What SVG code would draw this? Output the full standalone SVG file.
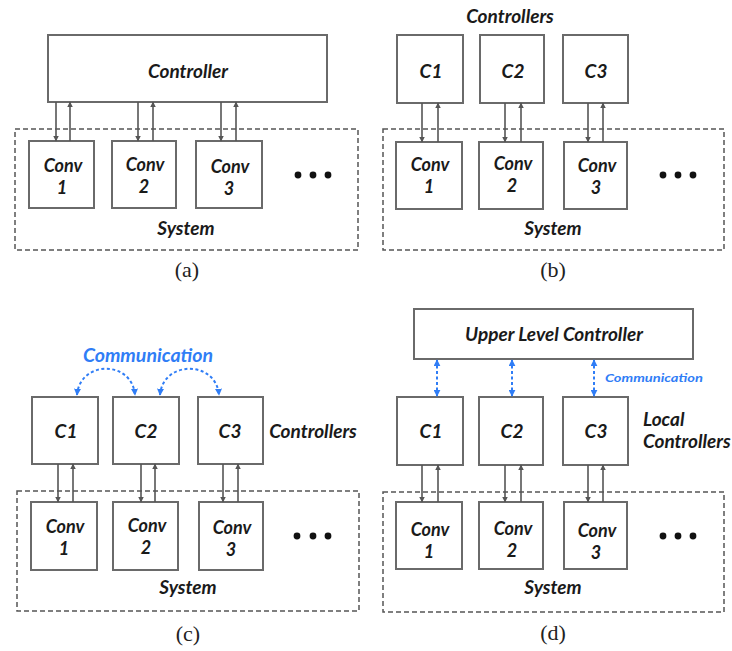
<svg xmlns="http://www.w3.org/2000/svg" width="732" height="651" viewBox="0 0 732 651">
  <style>
    .box { fill: #ffffff; stroke: #6a6a6a; stroke-width: 2; }
    .sys { fill: none; stroke: #555555; stroke-width: 1.5; stroke-dasharray: 5 3; }
    .lbl { font-family: Lato, "Open Sans", "Liberation Sans", sans-serif; font-weight: bold; font-style: italic; fill: #1a1a1a; text-anchor: middle; }
    .left { text-anchor: start; }
    .conv { font-size: 18px; }
    .big { font-size: 19px; }
    .cap { font-family: "Liberation Serif", serif; font-size: 22px; fill: #222222; text-anchor: middle; }
    .comm { font-family: Lato, "Open Sans", "Liberation Sans", sans-serif; font-weight: bold; font-style: italic; fill: #2f7df6; }
    .wire { stroke: #555555; stroke-width: 1.6; fill: none; marker-end: url(#ah); }
    .blue { stroke: #2f7df6; stroke-width: 2; stroke-dasharray: 3 2.5; fill: none; }
    .dot { fill: #111111; }
  </style>
  <defs>
    <marker id="ah" viewBox="0 0 10 10" refX="9" refY="5" markerWidth="5.5" markerHeight="5.5" orient="auto-start-reverse" markerUnits="userSpaceOnUse">
      <path d="M0,0 L10,5 L0,10 z" fill="#555555"/>
    </marker>
    <marker id="bh" viewBox="0 0 10 10" refX="9" refY="5" markerWidth="7" markerHeight="7" orient="auto-start-reverse" markerUnits="userSpaceOnUse">
      <path d="M0,0 L10,5 L0,10 z" fill="#2f7df6"/>
    </marker>
  </defs>

  <!-- ===== (a) one central controller ===== -->
  <g id="a-system">
    <rect class="sys" x="15" y="129" width="343" height="121"/>
    <text class="lbl big" x="186" y="235">System</text>
  </g>
  <g id="a-controller">
    <rect class="box" x="48" y="35" width="279" height="67"/>
    <text class="lbl big" x="188" y="78">Controller</text>
  </g>
  <g id="a-conv1"><rect class="box" x="29" y="141" width="65" height="67"/><text class="lbl conv" x="63" y="172">Conv</text><text class="lbl conv" x="62" y="194">1</text></g>
  <g id="a-conv2"><rect class="box" x="112" y="141" width="64" height="67"/><text class="lbl conv" x="145" y="171">Conv</text><text class="lbl conv" x="144" y="193">2</text></g>
  <g id="a-conv3"><rect class="box" x="196" y="141" width="66" height="67"/><text class="lbl conv" x="230" y="173">Conv</text><text class="lbl conv" x="229" y="195">3</text></g>
  <g id="a-more"><circle class="dot" cx="298" cy="175" r="3.4"/><circle class="dot" cx="313" cy="175" r="3.4"/><circle class="dot" cx="328" cy="175" r="3.4"/></g>
  <g id="a-connectors">
    <line class="wire" x1="56" y1="102" x2="56" y2="141"/>
    <line class="wire" x1="70" y1="141" x2="70" y2="102"/>
    <line class="wire" x1="138" y1="102" x2="138" y2="141"/>
    <line class="wire" x1="153" y1="141" x2="153" y2="102"/>
    <line class="wire" x1="221" y1="102" x2="221" y2="141"/>
    <line class="wire" x1="236" y1="141" x2="236" y2="102"/>
  </g>
  <text class="cap" x="187" y="277">(a)</text>

  <!-- ===== (b) one controller per converter ===== -->
  <text class="lbl big" x="510" y="23">Controllers</text>
  <g id="b-system">
    <rect class="sys" x="383" y="129" width="341" height="121"/>
    <text class="lbl big" x="553" y="235">System</text>
  </g>
  <g id="b-c1"><rect class="box" x="397" y="35" width="66" height="68"/><text class="lbl big" x="431" y="78">C1</text></g>
  <g id="b-c2"><rect class="box" x="480" y="35" width="64" height="68"/><text class="lbl big" x="513" y="78">C2</text></g>
  <g id="b-c3"><rect class="box" x="563" y="35" width="65" height="68"/><text class="lbl big" x="596" y="78">C3</text></g>
  <g id="b-conv1"><rect class="box" x="396" y="142" width="66" height="67"/><text class="lbl conv" x="430" y="171">Conv</text><text class="lbl conv" x="429" y="193">1</text></g>
  <g id="b-conv2"><rect class="box" x="479" y="142" width="64" height="67"/><text class="lbl conv" x="513" y="170">Conv</text><text class="lbl conv" x="512" y="192">2</text></g>
  <g id="b-conv3"><rect class="box" x="564" y="142" width="63" height="67"/><text class="lbl conv" x="597" y="172">Conv</text><text class="lbl conv" x="596" y="194">3</text></g>
  <g id="b-more"><circle class="dot" cx="663" cy="175" r="3.4"/><circle class="dot" cx="678" cy="175" r="3.4"/><circle class="dot" cx="693" cy="175" r="3.4"/></g>
  <g id="b-connectors">
    <line class="wire" x1="422" y1="103" x2="422" y2="142"/>
    <line class="wire" x1="438" y1="142" x2="438" y2="103"/>
    <line class="wire" x1="505" y1="103" x2="505" y2="142"/>
    <line class="wire" x1="521" y1="142" x2="521" y2="103"/>
    <line class="wire" x1="588" y1="103" x2="588" y2="142"/>
    <line class="wire" x1="603" y1="142" x2="603" y2="103"/>
  </g>
  <text class="cap" x="553" y="277">(b)</text>

  <!-- ===== (c) distributed controllers with peer communication ===== -->
  <text class="comm" x="148" y="362" font-size="19.5" text-anchor="middle">Communication</text>
  <text class="lbl big" x="313" y="438">Controllers</text>
  <g id="c-system">
    <rect class="sys" x="17" y="491" width="342" height="120"/>
    <text class="lbl big" x="188" y="594">System</text>
  </g>
  <g id="c-c1"><rect class="box" x="32" y="397" width="66" height="67"/><text class="lbl big" x="66" y="438">C1</text></g>
  <g id="c-c2"><rect class="box" x="113" y="397" width="66" height="67"/><text class="lbl big" x="146" y="438">C2</text></g>
  <g id="c-c3"><rect class="box" x="198" y="397" width="65" height="67"/><text class="lbl big" x="230" y="438">C3</text></g>
  <g id="c-conv1"><rect class="box" x="31" y="502" width="66" height="68"/><text class="lbl conv" x="65" y="533">Conv</text><text class="lbl conv" x="64" y="555">1</text></g>
  <g id="c-conv2"><rect class="box" x="113" y="502" width="65" height="68"/><text class="lbl conv" x="147" y="532">Conv</text><text class="lbl conv" x="146" y="554">2</text></g>
  <g id="c-conv3"><rect class="box" x="199" y="502" width="64" height="68"/><text class="lbl conv" x="232" y="534">Conv</text><text class="lbl conv" x="231" y="556">3</text></g>
  <g id="c-more"><circle class="dot" cx="297" cy="536" r="3.4"/><circle class="dot" cx="313" cy="536" r="3.4"/><circle class="dot" cx="328" cy="536" r="3.4"/></g>
  <g id="c-connectors">
    <line class="wire" x1="58" y1="464" x2="58" y2="502"/>
    <line class="wire" x1="73" y1="502" x2="73" y2="464"/>
    <line class="wire" x1="141" y1="464" x2="141" y2="502"/>
    <line class="wire" x1="155" y1="502" x2="155" y2="464"/>
    <line class="wire" x1="223" y1="464" x2="223" y2="502"/>
    <line class="wire" x1="238" y1="502" x2="238" y2="464"/>
    <path class="blue" d="M77,395 C80,360 132,360 135,395" marker-start="url(#bh)" marker-end="url(#bh)"/>
    <path class="blue" d="M160,395 C163,360 216,360 219,395" marker-start="url(#bh)" marker-end="url(#bh)"/>
  </g>
  <text class="cap" x="188" y="641">(c)</text>

  <!-- ===== (d) hierarchical control ===== -->
  <g id="d-upper">
    <rect class="box" x="414" y="309" width="279" height="50"/>
    <text class="lbl big" x="554" y="341">Upper Level Controller</text>
  </g>
  <text class="comm" x="605" y="382" font-size="12" textLength="98" lengthAdjust="spacingAndGlyphs">Communication</text>
  <text class="lbl big left" x="643" y="426">Local</text>
  <text class="lbl big left" x="643" y="448">Controllers</text>
  <g id="d-system">
    <rect class="sys" x="383" y="492" width="341" height="120"/>
    <text class="lbl big" x="553" y="594">System</text>
  </g>
  <g id="d-c1"><rect class="box" x="397" y="397" width="66" height="68"/><text class="lbl big" x="431" y="438">C1</text></g>
  <g id="d-c2"><rect class="box" x="479" y="397" width="64" height="68"/><text class="lbl big" x="512" y="438">C2</text></g>
  <g id="d-c3"><rect class="box" x="563" y="397" width="65" height="68"/><text class="lbl big" x="596" y="438">C3</text></g>
  <g id="d-conv1"><rect class="box" x="396" y="502" width="66" height="67"/><text class="lbl conv" x="430" y="536">Conv</text><text class="lbl conv" x="429" y="558">1</text></g>
  <g id="d-conv2"><rect class="box" x="479" y="502" width="64" height="67"/><text class="lbl conv" x="513" y="535">Conv</text><text class="lbl conv" x="512" y="557">2</text></g>
  <g id="d-conv3"><rect class="box" x="564" y="502" width="63" height="67"/><text class="lbl conv" x="597" y="537">Conv</text><text class="lbl conv" x="596" y="559">3</text></g>
  <g id="d-more"><circle class="dot" cx="663" cy="536" r="3.4"/><circle class="dot" cx="678" cy="536" r="3.4"/><circle class="dot" cx="693" cy="536" r="3.4"/></g>
  <g id="d-connectors">
    <line class="blue" x1="437" y1="360" x2="437" y2="396" marker-start="url(#bh)" marker-end="url(#bh)"/>
    <line class="blue" x1="512" y1="360" x2="512" y2="396" marker-start="url(#bh)" marker-end="url(#bh)"/>
    <line class="blue" x1="594" y1="360" x2="594" y2="396" marker-start="url(#bh)" marker-end="url(#bh)"/>
    <line class="wire" x1="422" y1="465" x2="422" y2="502"/>
    <line class="wire" x1="438" y1="502" x2="438" y2="465"/>
    <line class="wire" x1="505" y1="465" x2="505" y2="502"/>
    <line class="wire" x1="521" y1="502" x2="521" y2="465"/>
    <line class="wire" x1="588" y1="465" x2="588" y2="502"/>
    <line class="wire" x1="603" y1="502" x2="603" y2="465"/>
  </g>
  <text class="cap" x="553" y="640">(d)</text>
</svg>
